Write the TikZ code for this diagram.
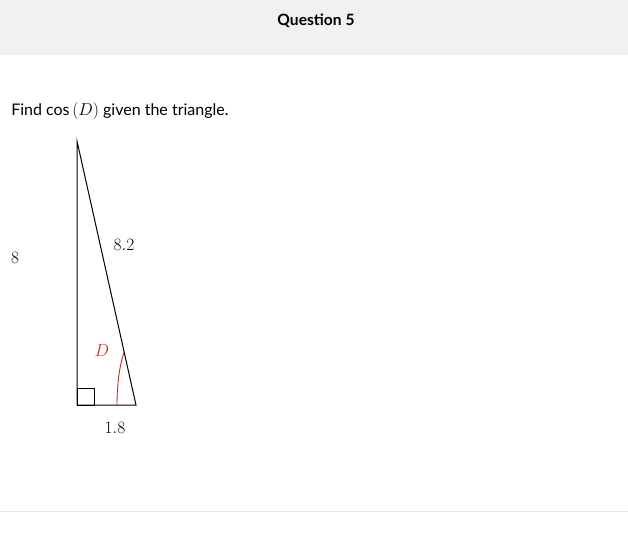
\documentclass[tikz,border=0pt]{standalone}
\usepackage[no-math]{fontspec}
\newfontfamily\uifont{Lato}
\usepackage{tikz}
\usetikzlibrary{positioning}
\definecolor{headgray}{RGB}{241,241,241}
\definecolor{rulegray}{RGB}{230,230,230}
\definecolor{anglered}{RGB}{215,35,35}

\begin{document}
\begin{tikzpicture}[x=1pt,y=1pt,semithick,
    sidelabel/.style={font=\fontsize{17}{19}\selectfont},
    uitext/.style={font=\uifont\fontsize{16}{19}\selectfont},
    tri/.style={draw=black,line width=1pt}]
    % ------------------------------------------------------------------
    %                             PAGE
    % ------------------------------------------------------------------
    \useasboundingbox (0,0) rectangle (628,-537);
    \fill[headgray] (0,0) rectangle (628,-55);
    \coordinate (ruleL) at (0,-511);
    \coordinate (ruleR) at (628,-511);
    \draw[rulegray,line width=1pt] (ruleL) -- (ruleR);
    \node[font=\uifont\bfseries\fontsize{15.6}{18}\selectfont] (title) at (316,-21) {Question 5};
    \node[uitext,anchor=west,inner sep=0pt] (prompt) at (11,-111) {Find cos\,{\fontsize{17}{19}\selectfont$(D)$} given the triangle.};
    % ------------------------------------------------------------------
    %                             TRIANGLE
    % ------------------------------------------------------------------
    \coordinate (top)   at (77,-141);
    \coordinate (right) at (77,-405);
    \coordinate (angD)  at (136,-405);
    \draw[tri] (top) -- (right) -- (angD) -- cycle;
    % right angle mark
    \draw[line width=0.9pt] (right) rectangle ++(17,17);
    % angle D
    \draw[anglered,line width=0.9pt] (angD) ++(-19,0)
        arc[start angle=180,end angle=129.2,x radius=19,y radius=68];
    % ------------------------------------------------------------------
    %                             LABELS
    % ------------------------------------------------------------------
    \node[sidelabel] (lenA) at (15,-258) {$8$};
    \node[sidelabel] (lenC) at (124,-245) {$8.2$};
    \node[sidelabel] (lenB) at (115,-428) {$1.8$};
    \node[sidelabel,text=anglered] (nameD) at (102,-351) {$D$};
\end{tikzpicture}
\end{document}
